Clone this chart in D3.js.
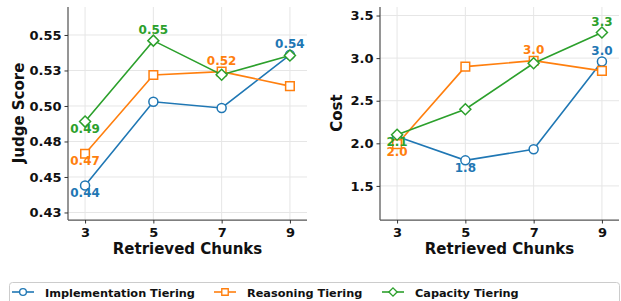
<!DOCTYPE html>
<html>
<head>
<meta charset="utf-8">
<script src="https://cdn.jsdelivr.net/npm/d3@7"></script>
<style>
  body { margin: 0; background: #fff; }
  svg { font-family: "DejaVu Sans", sans-serif; font-weight: bold; }
</style>
</head>
<body>
<div id="chart"></div>
<script>
// data
const chunks = [3, 5, 7, 9];
const seriesNames = ["Implementation Tiering", "Reasoning Tiering", "Capacity Tiering"];
const colors = ["#1f77b4", "#ff7f0e", "#2ca02c"];
const shapes = ["circle", "square", "diamond"];

const judgeImpl = [0.444, 0.503, 0.4986, 0.536];
const judgeReason = [0.4664, 0.5218, 0.5242, 0.514];
const judgeCap = [0.489, 0.546, 0.522, 0.5355];

const costImpl = [2.08, 1.80, 1.93, 2.96];
const costReason = [1.99, 2.90, 2.97, 2.85];
const costCap = [2.10, 2.40, 2.94, 3.30];

const judgeTicks = [0.425, 0.45, 0.475, 0.5, 0.525, 0.55];
const judgeTickLabels = ["0.43", "0.45", "0.48", "0.50", "0.53", "0.55"];
const costTicks = [1.5, 2.0, 2.5, 3.0, 3.5];

const width = 621, height = 301;

var svg = d3.select("#chart").append("svg")
  .attr("width", width)
  .attr("height", height);

/* draw one panel */
function panel(opts) {
  var g = svg.append("g");
  var x = d3.scaleLinear().domain([2.5, 9.5]).range([opts.left, opts.right]);
  var y = d3.scaleLinear().domain(opts.yDomain).range([220, 7]);

  // grid
  g.append("g").selectAll("line.vg").data(chunks).enter().append("line")
    .attr("x1", d => x(d)).attr("x2", d => x(d))
    .attr("y1", 7).attr("y2", 220)
    .style("stroke", "#e6e6e6").style("stroke-width", 1);
  g.append("g").selectAll("line.hg").data(opts.ticks).enter().append("line")
    .attr("x1", opts.left).attr("x2", opts.right)
    .attr("y1", d => y(d)).attr("y2", d => y(d))
    .style("stroke", "#e6e6e6").style("stroke-width", 1);

  // axes
  var xAxis = d3.axisBottom(x).tickValues(chunks).tickSize(3.5).tickPadding(4)
    .tickFormat(d3.format("d"));
  var yAxis = d3.axisLeft(y).tickValues(opts.ticks).tickSize(3.5).tickPadding(3)
    .tickFormat((d, i) => opts.labels[i]);

  var gx = g.append("g").attr("transform", "translate(0,220)").call(xAxis);
  var gy = g.append("g").attr("transform", "translate(" + opts.left + ",0)").call(yAxis);
  [gx, gy].forEach(function(a) {
    a.select(".domain").style("stroke", "#555").style("stroke-width", 1.25)
      .attr("d", a === gx ? "M" + opts.left + ",0H" + opts.right : "M0,7V220");
    a.selectAll(".tick line").style("stroke", "#333");
    a.selectAll(".tick text").style("font-size", "13px").style("font-weight", "bold")
      .style("font-family", "DejaVu Sans").style("fill", "#111");
  });

  // axis titles
  g.append("text")
    .attr("x", (opts.left + opts.right) / 2).attr("y", 254)
    .attr("text-anchor", "middle")
    .style("font-size", "15px").style("fill", "#111")
    .text("Retrieved Chunks");
  g.append("text")
    .attr("transform", "translate(" + opts.titleX + ",113) rotate(-90)")
    .attr("text-anchor", "middle")
    .style("font-size", "15px").style("fill", "#111")
    .text(opts.title);

  var line = d3.line().x((d, i) => x(chunks[i])).y(d => y(d));

  opts.series.forEach(function(vals, s) {
    g.append("path").datum(vals)
      .attr("d", line)
      .style("fill", "none").style("stroke", colors[s]).style("stroke-width", 1.6);

    g.append("g").selectAll("path.m").data(vals).enter().append("path")
      .attr("transform", (d, i) => "translate(" + x(chunks[i]) + "," + y(d) + ")")
      .attr("d", markerPath(shapes[s]))
      .style("fill", "#fff").style("stroke", colors[s]).style("stroke-width", 1.5);

    // label min (below) and max (above)
    var iMax = d3.maxIndex(vals), iMin = d3.minIndex(vals);
    [[iMax, -7], [iMin, 11.5]].forEach(function(p) {
      g.append("text")
        .attr("x", x(chunks[p[0]]))
        .attr("y", y(vals[p[0]]) + p[1])
        .attr("text-anchor", "middle")
        .style("font-size", "12px").style("fill", colors[s])
        .text(d3.format(opts.fmt)(vals[p[0]]));
    });
  });
}

function markerPath(shape) {
  if (shape === "circle") return d3.symbol(d3.symbolCircle, 64)();
  if (shape === "square") return "M-4.3,-4.3H4.3V4.3H-4.3Z";
  return "M0,-5.5L5.5,0L0,5.5L-5.5,0Z";
}

panel({
  left: 68, right: 307, yDomain: [0.4197, 0.5697],
  ticks: judgeTicks, labels: judgeTickLabels,
  series: [judgeImpl, judgeReason, judgeCap],
  title: "Judge Score", titleX: 24, fmt: ".2f"
});

panel({
  left: 380, right: 619, yDomain: [1.1, 3.6],
  ticks: costTicks, labels: costTicks.map(d => d.toFixed(1)),
  series: [costImpl, costReason, costCap],
  title: "Cost", titleX: 342, fmt: ".1f"
});

/* legend */
var legend = svg.append("g");
legend.append("rect")
  .attr("x", 9.5).attr("y", 282.5).attr("width", 610).attr("height", 30)
  .attr("rx", 3)
  .style("fill", "#fff").style("stroke", "#ccc").style("stroke-width", 1);

var legendX = [12, 214, 382];
seriesNames.forEach(function(name, s) {
  var item = legend.append("g").attr("transform", "translate(" + legendX[s] + ",292)");
  item.append("line").attr("x1", 0).attr("x2", 22)
    .style("stroke", colors[s]).style("stroke-width", 1.6);
  item.append("path").attr("transform", "translate(11,0) scale(0.75)")
    .attr("d", markerPath(shapes[s]))
    .style("fill", "#fff").style("stroke", colors[s]).style("stroke-width", 1.8);
  item.append("text").attr("x", 33).attr("y", 4.5)
    .style("font-size", "11.3px").style("fill", "#111")
    .text(name);
});
</script>
</body>
</html>
